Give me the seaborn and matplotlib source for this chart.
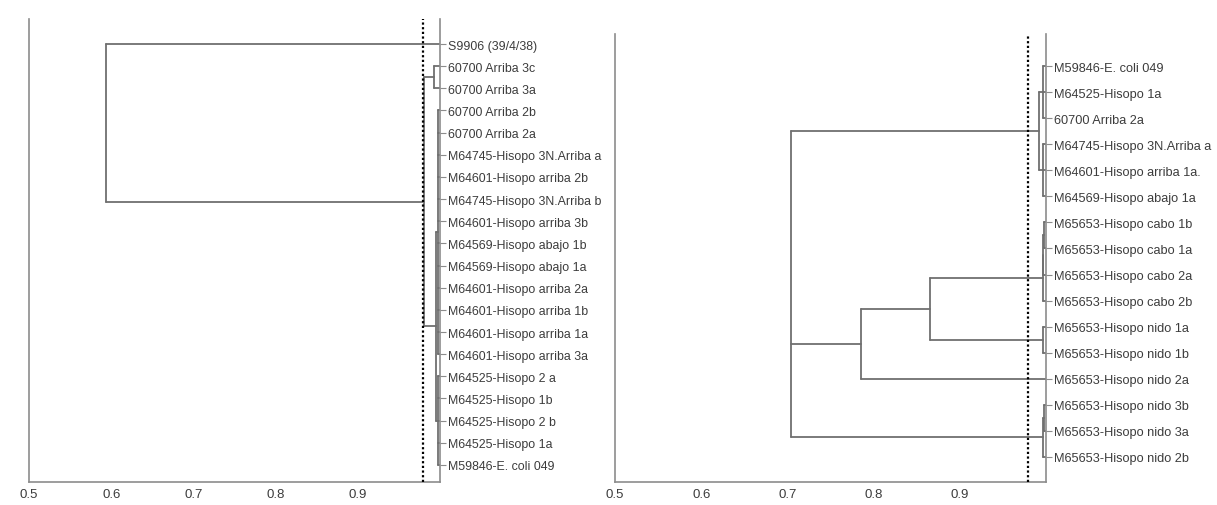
import matplotlib
matplotlib.use("Agg")
import matplotlib.pyplot as plt
import seaborn as sns
import pandas as pd

# ---------------- data ----------------
left_labels = [
    "S9906 (39/4/38)",
    "60700 Arriba 3c",
    "60700 Arriba 3a",
    "60700 Arriba 2b",
    "60700 Arriba 2a",
    "M64745-Hisopo 3N.Arriba a",
    "M64601-Hisopo arriba 2b",
    "M64745-Hisopo 3N.Arriba b",
    "M64601-Hisopo arriba 3b",
    "M64569-Hisopo abajo 1b",
    "M64569-Hisopo abajo 1a",
    "M64601-Hisopo arriba 2a",
    "M64601-Hisopo arriba 1b",
    "M64601-Hisopo arriba 1a",
    "M64601-Hisopo arriba 3a",
    "M64525-Hisopo 2 a",
    "M64525-Hisopo 1b",
    "M64525-Hisopo 2 b",
    "M64525-Hisopo 1a",
    "M59846-E. coli 049",
]
# merges: (node name, children [leaf index or node name], similarity)
left_merges = [
    ("C1", [1, 2], 0.993),
    ("P", [3, 4, 5, 6, 7, 8, 9, 10, 11, 12, 13, 14], 0.997),
    ("Q", [15, 16, 17, 18, 19], 0.997),
    ("REST", ["P", "Q"], 0.995),
    ("BIG", ["C1", "REST"], 0.980),
    ("ROOT", [0, "BIG"], 0.594),
]

right_labels = [
    "M59846-E. coli 049",
    "M64525-Hisopo 1a",
    "60700 Arriba 2a",
    "M64745-Hisopo 3N.Arriba a",
    "M64601-Hisopo arriba 1a.",
    "M64569-Hisopo abajo 1a",
    "M65653-Hisopo cabo 1b",
    "M65653-Hisopo cabo 1a",
    "M65653-Hisopo cabo 2a",
    "M65653-Hisopo cabo 2b",
    "M65653-Hisopo nido 1a",
    "M65653-Hisopo nido 1b",
    "M65653-Hisopo nido 2a",
    "M65653-Hisopo nido 3b",
    "M65653-Hisopo nido 3a",
    "M65653-Hisopo nido 2b",
]
right_merges = [
    ("A", [0, 1, 2], 0.996),
    ("B", [3, 4, 5], 0.997),
    ("TOP", ["A", "B"], 0.992),
    ("C1", [6, 7], 0.998),
    ("C2", ["C1", 8], 0.997),
    ("CABO", ["C2", 9], 0.996),
    ("NIDO1", [10, 11], 0.997),
    ("M2", ["CABO", "NIDO1"], 0.865),
    ("MID", ["M2", 12], 0.785),
    ("N3", [13, 14], 0.998),
    ("BOT", ["N3", 15], 0.996),
    ("ROOT", ["TOP", "MID", "BOT"], 0.704),
]

cutoff = 0.979
x_ticks = [0.5, 0.6, 0.7, 0.8, 0.9]
x_tick_labels = ["0.5", "0.6", "0.7", "0.8", "0.9"]


def dendro_segments(merges):
    nodes = {name: (kids, sim) for name, kids, sim in merges}
    segs = []

    def place(node):
        if isinstance(node, int):
            return float(node), 1.0
        kids, sim = nodes[node]
        pos = []
        for k in kids:
            p, kx = place(k)
            segs.append((sim, p, kx, p))
            pos.append(p)
        segs.append((sim, min(pos), sim, max(pos)))
        return (min(pos) + max(pos)) / 2.0, sim

    place(merges[-1][0])
    rows = []
    for i, (x0, y0, x1, y1) in enumerate(segs):
        rows.append(dict(seg=i, x=x0, y=y0))
        rows.append(dict(seg=i, x=x1, y=y1))
    return pd.DataFrame(rows)


sns.set_style("white")
plt.rcParams["font.family"] = ["Liberation Sans", "DejaVu Sans"]

fig = plt.figure(figsize=(12.17, 5.06), dpi=100)
axL = fig.add_axes([29 / 1217, 23 / 506, 411 / 1217, 463 / 506])
axR = fig.add_axes([615 / 1217, 23 / 506, 431 / 1217, 448 / 506])

line_col = "#6f6f6f"
spine_col = "#8c8c8c"
text_col = "#3c3c3c"

for ax, labels, merges, ylim, fs in [
    (axL, left_labels, left_merges, (19.77, -1.13), 8.9),
    (axR, right_labels, right_merges, (15.96, -1.23), 9.2),
]:
    df = dendro_segments(merges)
    sns.lineplot(data=df, x="x", y="y", units="seg", estimator=None,
                 sort=False, color=line_col, lw=1.3, ax=ax)
    ax.axvline(cutoff, color="black", ls=(0, (1, 1.1)), lw=1.6, zorder=5)
    ax.set_xlim(0.5, 1.0)
    ax.set_ylim(*ylim)
    ax.set_xlabel("")
    ax.set_ylabel("")
    ax.set_xticks(x_ticks)
    ax.set_xticklabels(x_tick_labels, fontsize=9.5, color=text_col)
    ax.tick_params(axis="x", length=0, pad=4)
    ax.yaxis.tick_right()
    ax.set_yticks(range(len(labels)))
    ax.set_yticklabels(labels, fontsize=fs, color=text_col)
    ax.tick_params(axis="y", which="both", right=True, left=False,
                   length=4, width=0.8, color=spine_col, pad=1.5)
    for side in ["left", "bottom", "right"]:
        ax.spines[side].set_visible(True)
        ax.spines[side].set_color(spine_col)
        ax.spines[side].set_linewidth(1.2)
    ax.spines["top"].set_visible(False)
    ax.grid(False)

fig.savefig("out.png", dpi=100, facecolor="white")
